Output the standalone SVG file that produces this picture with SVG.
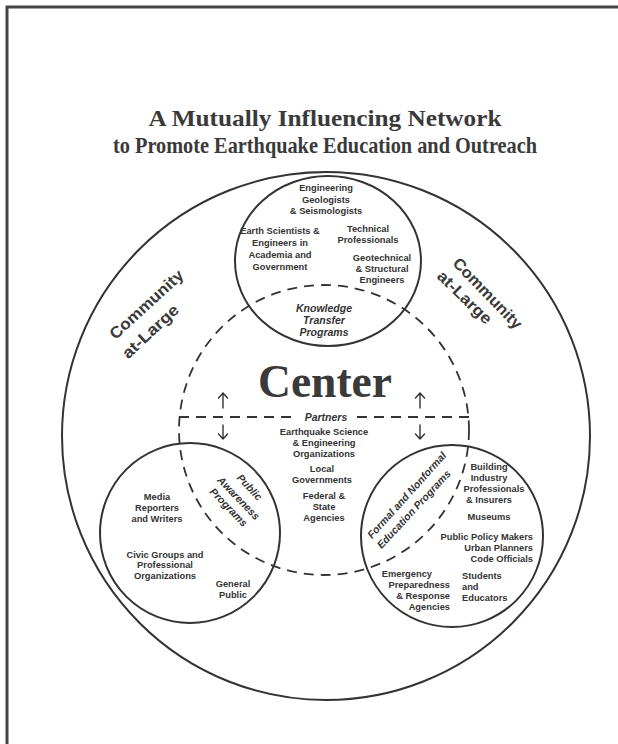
<svg xmlns="http://www.w3.org/2000/svg" width="618" height="744" viewBox="0 0 618 744">
  <style>
    .frame { fill: none; stroke: #444; stroke-width: 3; }
    .ring { fill: none; stroke: #333; stroke-width: 2; }
    .dash { fill: none; stroke: #333; stroke-width: 1.8; stroke-dasharray: 10 7; }
    .title { font-family: "Liberation Serif", "DejaVu Serif", serif; font-weight: bold; font-size: 24px; fill: #3a3a3a; text-anchor: middle; }
    .big { font-family: "Liberation Serif", "DejaVu Serif", serif; font-weight: bold; font-size: 46px; fill: #3a3a3a; text-anchor: middle; }
    .lbl { font-family: "Liberation Sans", Arial, sans-serif; font-weight: bold; font-size: 9.3px; fill: #333; text-anchor: middle; }
    .end { text-anchor: end; }
    .start { text-anchor: start; }
    .prog { font-family: "Liberation Sans", Arial, sans-serif; font-weight: bold; font-style: italic; font-size: 10.5px; fill: #333; text-anchor: middle; }
    .comm { font-family: "Liberation Sans", Arial, sans-serif; font-weight: bold; font-size: 16px; fill: #3a3a3a; text-anchor: middle; }
    .arrow { fill: none; stroke: #333; stroke-width: 1.4; stroke-linecap: round; stroke-linejoin: round; }
  </style>

  <!-- page frame: top and left edges only -->
  <path class="frame" d="M7,744 V7 H618"/>

  <!-- heading -->
  <g id="title">
    <text class="title" x="325" y="126" textLength="353" lengthAdjust="spacingAndGlyphs">A Mutually Influencing Network</text>
    <text class="title" x="325" y="153" textLength="424" lengthAdjust="spacingAndGlyphs">to Promote Earthquake Education and Outreach</text>
  </g>

  <!-- outer ring: community at large -->
  <g id="community">
    <circle class="ring" cx="326" cy="436" r="264"/>
    <text class="comm" transform="translate(146,304) rotate(-42.5)" y="6" textLength="94" lengthAdjust="spacingAndGlyphs">Community</text>
    <text class="comm" transform="translate(150,331) rotate(-43)" y="6" textLength="71" lengthAdjust="spacingAndGlyphs">at-Large</text>
    <text class="comm" transform="translate(488,293) rotate(46)" y="6" textLength="92" lengthAdjust="spacingAndGlyphs">Community</text>
    <text class="comm" transform="translate(465,297) rotate(44)" y="6" textLength="69" lengthAdjust="spacingAndGlyphs">at-Large</text>
  </g>

  <!-- center (dashed) -->
  <g id="center">
    <circle class="dash" cx="324" cy="430" r="145"/>
    <text class="big" x="325" y="397" textLength="134" lengthAdjust="spacingAndGlyphs">Center</text>
    <text class="lbl" x="324" y="435">Earthquake Science</text>
    <text class="lbl" x="324" y="446">&amp; Engineering</text>
    <text class="lbl" x="324" y="457">Organizations</text>
    <text class="lbl" x="322" y="472">Local</text>
    <text class="lbl" x="322" y="483">Governments</text>
    <text class="lbl" x="324" y="499">Federal &amp;</text>
    <text class="lbl" x="324" y="510">State</text>
    <text class="lbl" x="324" y="521">Agencies</text>
  </g>

  <!-- upper circle: knowledge transfer -->
  <g id="knowledge-transfer">
    <ellipse class="ring" cx="328" cy="261" rx="93" ry="85"/>
    <text class="lbl" x="326" y="191">Engineering</text>
    <text class="lbl" x="326" y="203">Geologists</text>
    <text class="lbl" x="326" y="214">&amp; Seismologists</text>
    <text class="lbl" x="280" y="234">Earth Scientists &amp;</text>
    <text class="lbl" x="280" y="246">Engineers in</text>
    <text class="lbl" x="280" y="258">Academia and</text>
    <text class="lbl" x="280" y="270">Government</text>
    <text class="lbl" x="368" y="232">Technical</text>
    <text class="lbl" x="368" y="243">Professionals</text>
    <text class="lbl" x="382" y="261">Geotechnical</text>
    <text class="lbl" x="382" y="272">&amp; Structural</text>
    <text class="lbl" x="382" y="283">Engineers</text>
    <text class="prog" x="324" y="312">Knowledge</text>
    <text class="prog" x="324" y="324">Transfer</text>
    <text class="prog" x="324" y="336">Programs</text>
  </g>

  <!-- lower left circle: public awareness -->
  <g id="public-awareness">
    <circle class="ring" cx="190" cy="533" r="90"/>
    <text class="lbl" x="157" y="500">Media</text>
    <text class="lbl" x="157" y="511">Reporters</text>
    <text class="lbl" x="157" y="522">and Writers</text>
    <text class="lbl" x="165" y="558">Civic Groups and</text>
    <text class="lbl" x="165" y="568">Professional</text>
    <text class="lbl" x="165" y="579">Organizations</text>
    <text class="lbl" x="233" y="587">General</text>
    <text class="lbl" x="233" y="598">Public</text>
    <text class="prog" transform="translate(250,487) rotate(47)" y="4" font-size="11.5">Public</text>
    <text class="prog" transform="translate(239,498) rotate(46)" y="4" font-size="11.5">Awareness</text>
    <text class="prog" transform="translate(229,507) rotate(46)" y="4" font-size="11.5">Programs</text>
  </g>

  <!-- lower right circle: formal and nonformal education -->
  <g id="education">
    <circle class="ring" cx="452" cy="536" r="91"/>
    <text class="prog" transform="translate(406.5,495) rotate(-48)" y="4" font-size="12">Formal and Nonformal</text>
    <text class="prog" transform="translate(413.5,509) rotate(-47)" y="4" font-size="12">Education Programs</text>
    <text class="lbl" x="489" y="470">Building</text>
    <text class="lbl" x="489" y="481">Industry</text>
    <text class="lbl" x="494" y="492">Professionals</text>
    <text class="lbl" x="489" y="503">&amp; Insurers</text>
    <text class="lbl" x="489" y="520">Museums</text>
    <text class="lbl end" x="533" y="540">Public Policy Makers</text>
    <text class="lbl end" x="533" y="551">Urban Planners</text>
    <text class="lbl end" x="533" y="562">Code Officials</text>
    <text class="lbl end" x="432" y="577">Emergency</text>
    <text class="lbl end" x="450" y="588">Preparedness</text>
    <text class="lbl end" x="450" y="599">&amp; Response</text>
    <text class="lbl end" x="450" y="610">Agencies</text>
    <text class="lbl start" x="462" y="579">Students</text>
    <text class="lbl start" x="462" y="590">and</text>
    <text class="lbl start" x="462" y="601">Educators</text>
  </g>

  <!-- connectors: partners boundary and two-way arrows -->
  <g id="connectors">
    <path class="dash" stroke-width="2.4" stroke-dasharray="9 5" d="M179,417 H295 M357,417 H469"/>
    <text class="prog" x="326" y="421" font-size="11">Partners</text>
    <path class="arrow" d="M223,408 V393 M218.5,398 L223,393 L227.5,398"/>
    <path class="arrow" d="M223,425 V439 M218.5,434 L223,439 L227.5,434"/>
    <path class="arrow" d="M420,408 V393 M415.5,398 L420,393 L424.5,398"/>
    <path class="arrow" d="M420,425 V439 M415.5,434 L420,439 L424.5,434"/>
  </g>
</svg>
